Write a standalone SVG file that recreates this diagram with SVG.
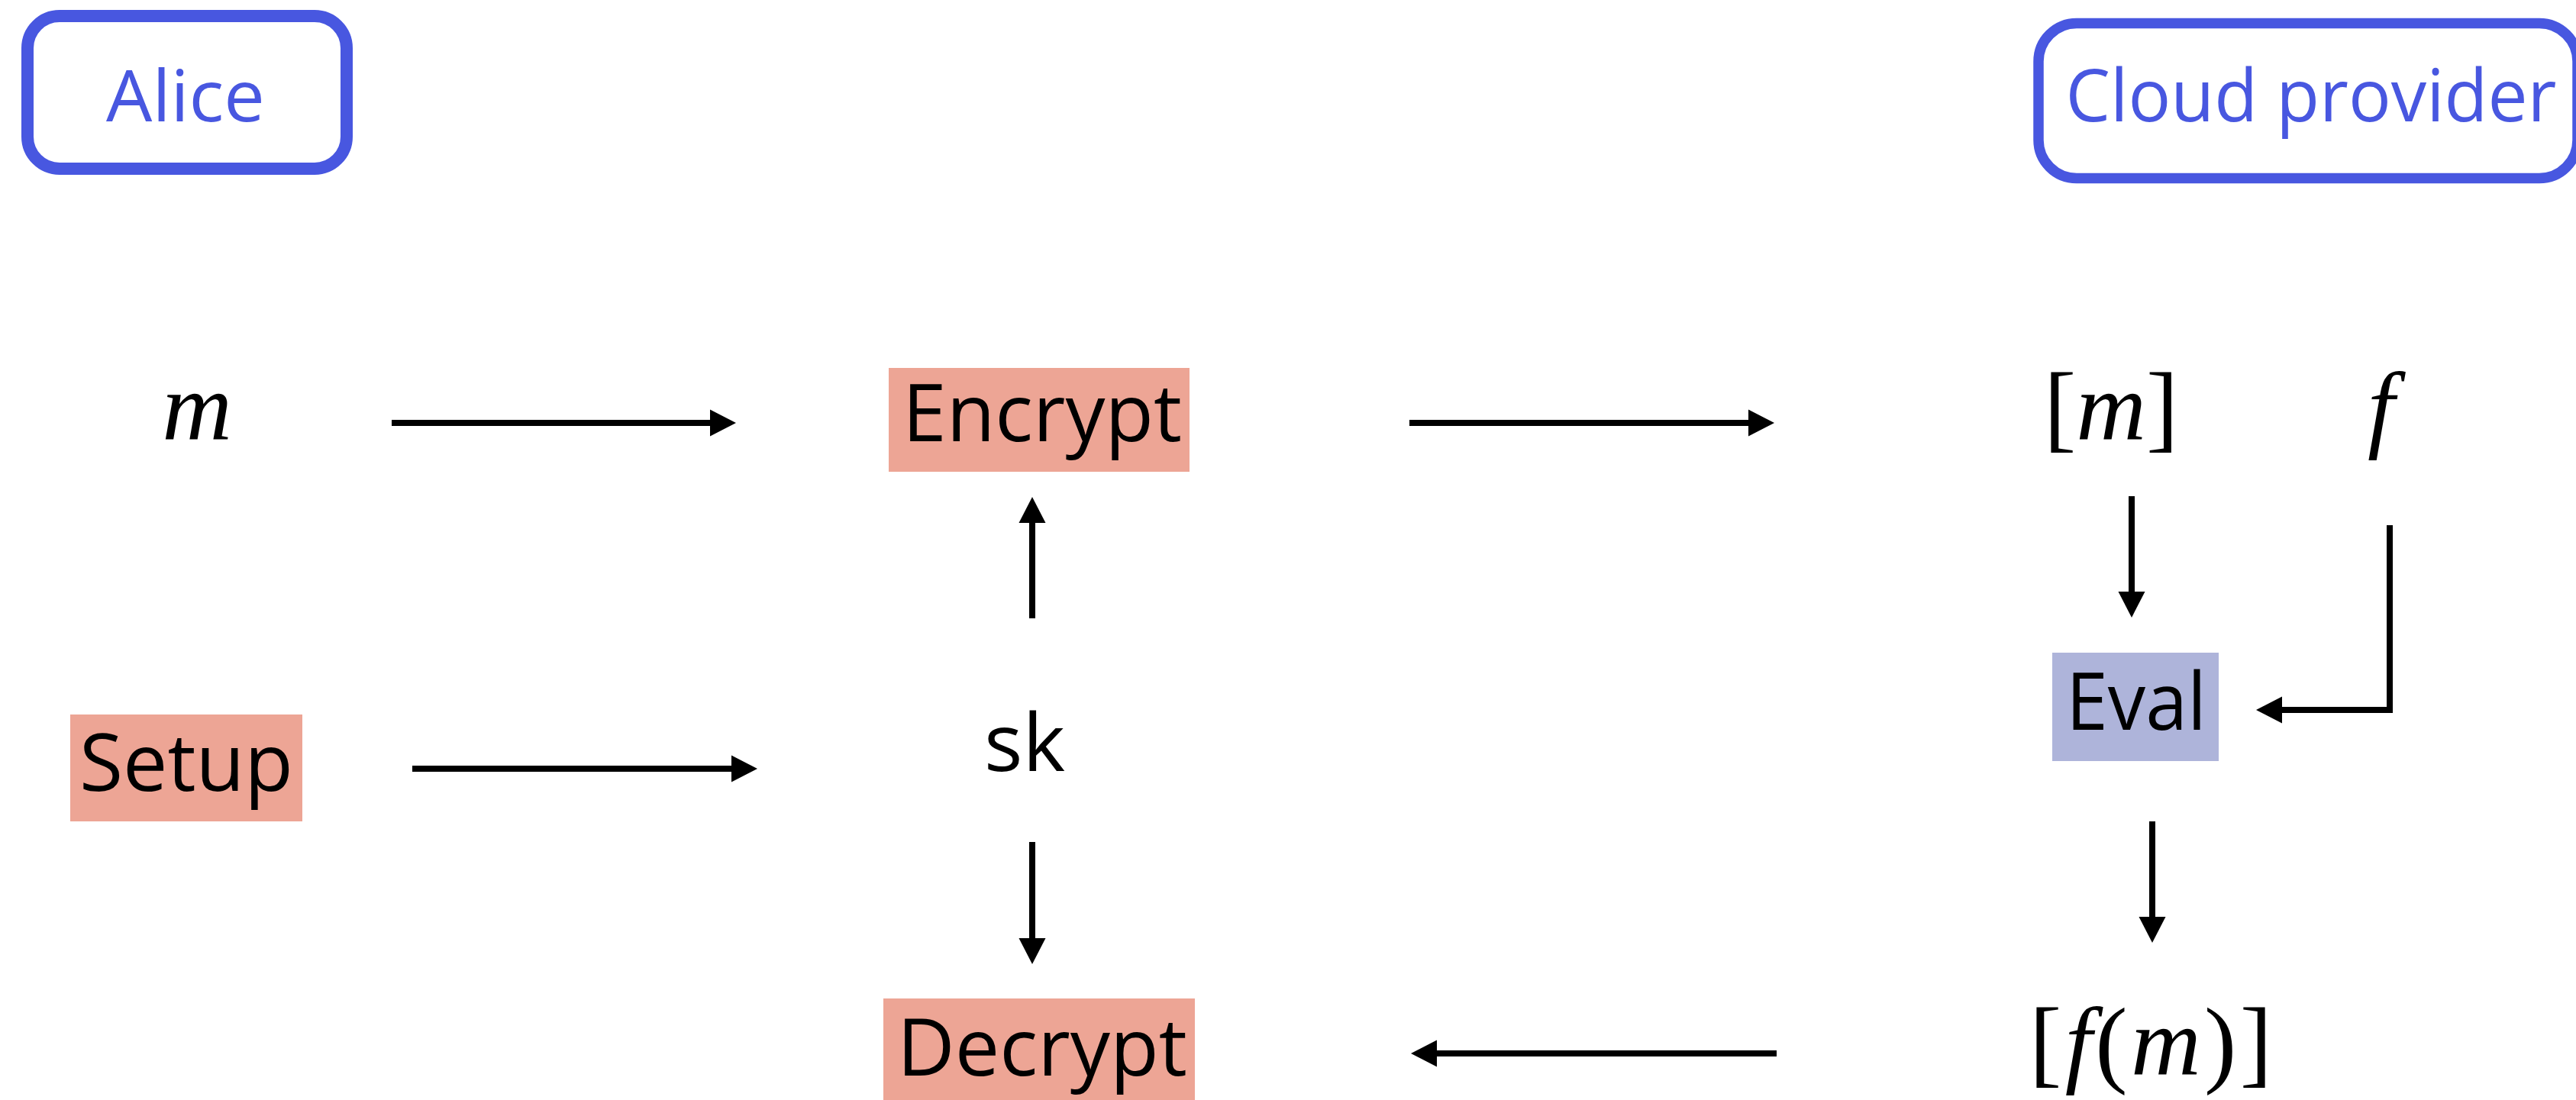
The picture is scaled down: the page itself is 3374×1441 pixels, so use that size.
<svg xmlns="http://www.w3.org/2000/svg" width="3374" height="1441" viewBox="0 0 3374 1441">
  <style>
    .party { fill: #ffffff; stroke: #4857E0; }
    .party-label { font-family: "Open Sans", "Noto Sans", sans-serif; fill: #4857E0; text-anchor: middle; }
    .op { fill: #EDA595; }
    .op-eval { fill: #AEB4DA; }
    .label { font-family: "Open Sans", "Noto Sans", sans-serif; font-size: 105px; fill: #000000; text-anchor: middle; }
    .math { font-family: "Liberation Serif", "Times New Roman", serif; font-size: 127px; fill: #000000; }
    .it { font-style: italic; }
    .wire { fill: none; stroke: #000000; stroke-width: 8; stroke-linejoin: miter; stroke-linecap: butt; }
  </style>
  <defs>
    <marker id="head" markerUnits="userSpaceOnUse" markerWidth="34" markerHeight="36" refX="0" refY="17.5" orient="auto" overflow="visible">
      <path d="M0,0 L34,17.5 L0,35 Z" fill="#000000"/>
    </marker>
  </defs>

  <rect width="3374" height="1441" fill="#ffffff"/>

  <!-- parties -->
  <g id="alice">
    <rect class="party" x="36" y="21" width="418" height="200" rx="42" ry="42" stroke-width="16"/>
    <text class="party-label" x="243" y="159" font-size="94" textLength="208" lengthAdjust="spacingAndGlyphs">Alice</text>
  </g>
  <g id="cloud-provider">
    <rect class="party" x="2670" y="30.5" width="706" height="203" rx="50" ry="50" stroke-width="13.5"/>
    <text class="party-label" x="3027" y="159" font-size="95" textLength="643" lengthAdjust="spacingAndGlyphs">Cloud provider</text>
  </g>

  <!-- Alice side -->
  <g id="message">
    <text class="math it" x="258" y="576" text-anchor="middle" font-size="132">m</text>
  </g>
  <g id="encrypt">
    <rect class="op" x="1164" y="482" width="394" height="136"/>
    <text class="label" x="1365" y="578" textLength="366" lengthAdjust="spacingAndGlyphs">Encrypt</text>
  </g>
  <g id="setup">
    <rect class="op" x="92" y="936" width="304" height="140"/>
    <text class="label" x="244" y="1036" textLength="280" lengthAdjust="spacingAndGlyphs">Setup</text>
  </g>
  <g id="secret-key">
    <text class="label" x="1342" y="1010" textLength="106" lengthAdjust="spacingAndGlyphs">sk</text>
  </g>
  <g id="decrypt">
    <rect class="op" x="1157" y="1308" width="408" height="140"/>
    <text class="label" x="1365" y="1409" textLength="380" lengthAdjust="spacingAndGlyphs">Decrypt</text>
  </g>

  <!-- cloud side -->
  <g id="ciphertext">
    <text class="math" x="2677" y="576">[<tspan class="it">m</tspan>]</text>
  </g>
  <g id="function">
    <text class="math it" x="3101" y="576" font-size="132">f</text>
  </g>
  <g id="eval">
    <rect class="op-eval" x="2688" y="855" width="218" height="142"/>
    <text class="label" x="2798" y="956" textLength="184" lengthAdjust="spacingAndGlyphs">Eval</text>
  </g>
  <g id="result">
    <text class="math" x="2658" y="1408" font-size="130" textLength="318" lengthAdjust="spacing">[<tspan class="it">f</tspan>(<tspan class="it">m</tspan>)]</text>
  </g>

  <!-- connectors -->
  <g id="connectors">
    <line class="wire" x1="513" y1="554" x2="930" y2="554" marker-end="url(#head)"/>
    <line class="wire" x1="1846" y1="554" x2="2290" y2="554" marker-end="url(#head)"/>
    <line class="wire" x1="540" y1="1007" x2="958" y2="1007" marker-end="url(#head)"/>
    <line class="wire" x1="1352" y1="810" x2="1352" y2="685" marker-end="url(#head)"/>
    <line class="wire" x1="1352" y1="1103" x2="1352" y2="1229" marker-end="url(#head)"/>
    <line class="wire" x1="2792" y1="650" x2="2792" y2="775" marker-end="url(#head)"/>
    <path class="wire" d="M3130,688 V930 H2989" marker-end="url(#head)"/>
    <line class="wire" x1="2819" y1="1076" x2="2819" y2="1201" marker-end="url(#head)"/>
    <line class="wire" x1="2327" y1="1380" x2="1882" y2="1380" marker-end="url(#head)"/>
  </g>
</svg>
